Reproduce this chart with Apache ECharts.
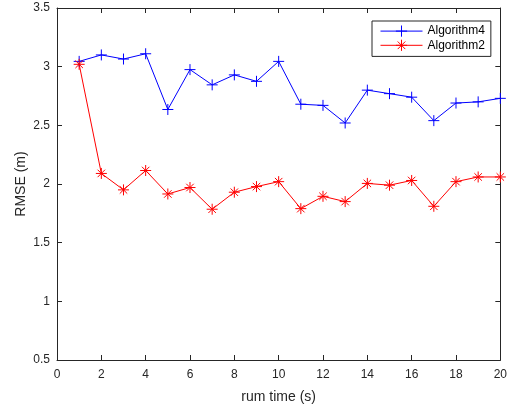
<!DOCTYPE html>
<html>
<head>
<meta charset="utf-8">
<script src="https://cdn.jsdelivr.net/npm/echarts@6/dist/echarts.min.js"></script>
<style>
html,body{margin:0;padding:0;background:#fff;}
#chart{width:510px;height:409px;}
</style>
</head>
<body>
<div id="chart"></div>
<script>
const runTimes = [1,2,3,4,5,6,7,8,9,10,11,12,13,14,15,16,17,18,19,20];
const algorithm4 = [3.045,3.10,3.065,3.11,2.635,2.975,2.845,2.93,2.875,3.045,2.68,2.67,2.52,2.80,2.77,2.74,2.54,2.69,2.70,2.73];
const algorithm2 = [3.02,2.09,1.95,2.115,1.915,1.97,1.785,1.93,1.978,2.02,1.79,1.895,1.85,2.005,1.99,2.03,1.81,2.02,2.06,2.06];
const xTicks = {min:0, max:20, interval:2};
const yTicks = {min:0.5, max:3.5, interval:0.5};

const FONT = "'Liberation Sans', Arial, Helvetica, sans-serif";
const AX = '#262626';
const plusPath = 'path://M5,0L5,10M0,5L10,5';
const starPath = 'path://M5,0L5,10M0,5L10,5M1.6,1.6L8.4,8.4M1.6,8.4L8.4,1.6';

function pairs(ys){ return runTimes.map((x,i)=>[x, ys[i]]); }

const chart = echarts.init(document.getElementById('chart'), null, {renderer:'canvas'});
const tickCommon = {show:true, inside:true, length:5, lineStyle:{color:AX, width:1}};
const lineCommon = {show:true, onZero:false, lineStyle:{color:AX, width:1}};
chart.setOption({
  animation:false,
  backgroundColor:'#fff',
  textStyle:{fontFamily:FONT},
  grid:{left:57, right:6, top:8, bottom:49, containLabel:false},
  legend:{
    orient:'vertical', left:372, top:21,
    padding:[4,6,5,8], itemGap:2, itemWidth:42, itemHeight:14,
    backgroundColor:'#fff', borderColor:AX, borderWidth:1, borderRadius:0,
    lineStyle:{width:1},
    itemStyle:{borderWidth:1},
    textStyle:{fontFamily:FONT, fontSize:12, color:'#000'},
    data:['Algorithm4','Algorithm2']
  },
  xAxis:[{
    type:'value', position:'bottom', min:xTicks.min, max:xTicks.max, interval:xTicks.interval,
    name:'rum time (s)', nameLocation:'middle', nameGap:30, nameMoveOverlap:false,
    nameTextStyle:{fontFamily:FONT, fontSize:14, color:AX},
    axisLine:lineCommon, axisTick:tickCommon,
    axisLabel:{margin:9, fontFamily:FONT, fontSize:12, color:AX},
    splitLine:{show:false}
  },{
    type:'value', position:'top', min:xTicks.min, max:xTicks.max, interval:xTicks.interval,
    axisLine:lineCommon, axisTick:tickCommon, axisLabel:{show:false}, splitLine:{show:false}
  }],
  yAxis:[{
    type:'value', position:'left', min:yTicks.min, max:yTicks.max, interval:yTicks.interval,
    name:'RMSE (m)', nameLocation:'middle', nameGap:29, nameMoveOverlap:false,
    nameTextStyle:{fontFamily:FONT, fontSize:14, color:AX},
    axisLine:lineCommon, axisTick:tickCommon,
    axisLabel:{margin:7, fontFamily:FONT, fontSize:12, color:AX},
    splitLine:{show:false}
  },{
    type:'value', position:'right', min:yTicks.min, max:yTicks.max, interval:yTicks.interval,
    axisLine:lineCommon, axisTick:tickCommon, axisLabel:{show:false}, splitLine:{show:false}
  }],
  series:[{
    name:'Algorithm4', type:'line', xAxisIndex:0, yAxisIndex:0,
    data:pairs(algorithm4),
    symbol:plusPath, symbolSize:11, showAllSymbol:true,
    lineStyle:{color:'#0000ff', width:1},
    itemStyle:{color:'#0000ff', borderColor:'#0000ff', borderWidth:1},
    emphasis:{disabled:true}
  },{
    name:'Algorithm2', type:'line', xAxisIndex:0, yAxisIndex:0,
    data:pairs(algorithm2),
    symbol:starPath, symbolSize:11, showAllSymbol:true,
    lineStyle:{color:'#ff0000', width:1},
    itemStyle:{color:'#ff0000', borderColor:'#ff0000', borderWidth:1},
    emphasis:{disabled:true}
  }]
});
</script>
</body>
</html>
